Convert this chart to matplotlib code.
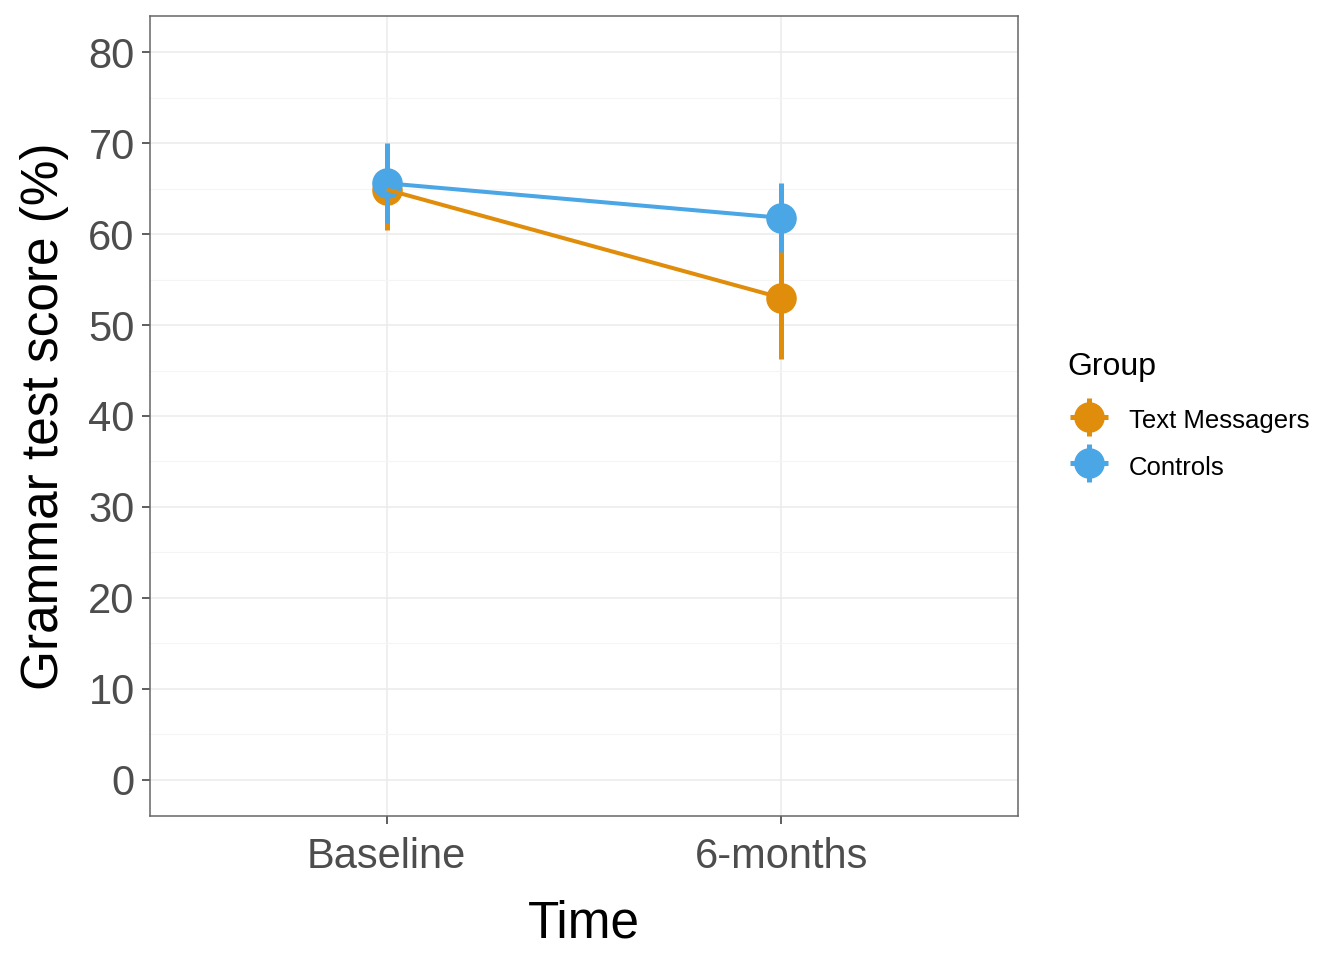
import matplotlib
matplotlib.use("Agg")
import matplotlib.pyplot as plt
from matplotlib.ticker import MultipleLocator
from matplotlib.lines import Line2D
from matplotlib.legend_handler import HandlerTuple

plt.rcParams['font.family'] = ['Liberation Sans', 'DejaVu Sans']

times = ["Baseline", "6-months"]
groups = ["Text Messagers", "Controls"]
means = {"Text Messagers": [64.9, 53.0], "Controls": [65.6, 61.8]}
errors = {"Text Messagers": [4.4, 6.7], "Controls": [4.4, 3.8]}
colors = {"Text Messagers": "#E08D0B", "Controls": "#4AA6E5"}

fig = plt.figure(figsize=(13.44, 9.6), dpi=100)
ax = fig.add_axes([150/1344, 1-816/960, (1018-150)/1344, (816-16)/960])

x = [1, 2]
for i, g in enumerate(groups):
    ax.errorbar(x, means[g], yerr=errors[g], fmt='o', color=colors[g],
                markersize=21, elinewidth=3.6, capsize=0, zorder=3+i*0.1)
for i, g in enumerate(groups):
    ax.plot(x, means[g], color=colors[g], linewidth=2.9, zorder=4+i*0.1,
            solid_capstyle='butt')

ax.set_xlim(0.4, 2.6)
ax.set_ylim(-4, 84)
ax.set_xticks(x)
ax.set_xticklabels(times)
ax.yaxis.set_major_locator(MultipleLocator(10))
ax.yaxis.set_minor_locator(MultipleLocator(5))
ax.grid(which='major', color='#EBEBEB', linewidth=1.1, zorder=0)
ax.grid(which='minor', axis='y', color='#F5F5F5', linewidth=0.8, zorder=0)
ax.set_axisbelow(True)
ax.tick_params(which='minor', length=0)
ax.tick_params(which='major', length=6, width=1.1, color='#333333',
               labelsize=30, labelcolor='#4D4D4D', pad=5)
ax.tick_params(axis='x', pad=9)
for s in ax.spines.values():
    s.set_color('#666666')
    s.set_linewidth(1.1)

ax.set_xlabel("Time", fontsize=37, labelpad=16)
ax.set_ylabel("Grammar test score (%)", fontsize=37, labelpad=14)

handles = []
for g in groups:
    c = colors[g]
    hline = Line2D([], [], linestyle='none', marker='_', markersize=27,
                   markeredgewidth=3.6, color=c)
    vline = Line2D([], [], linestyle='none', marker='|', markersize=27,
                   markeredgewidth=3.6, color=c)
    pt = Line2D([], [], linestyle='none', marker='o', markersize=21, color=c)
    handles.append((hline, vline, pt))

leg = ax.legend(handles, groups, loc='upper left',
                bbox_to_anchor=(1067/1344, 1-352/960), bbox_transform=fig.transFigure,
                frameon=False, fontsize=18.5, title="Group", title_fontsize=23,
                handler_map={tuple: HandlerTuple(ndivide=1)},
                handlelength=1.7, handleheight=1.4, handletextpad=0.7,
                labelspacing=0.65, borderaxespad=0, borderpad=0)
leg._legend_box.align = "left"
leg._legend_box.sep = 16.5

fig.savefig("out.png", dpi=100)
